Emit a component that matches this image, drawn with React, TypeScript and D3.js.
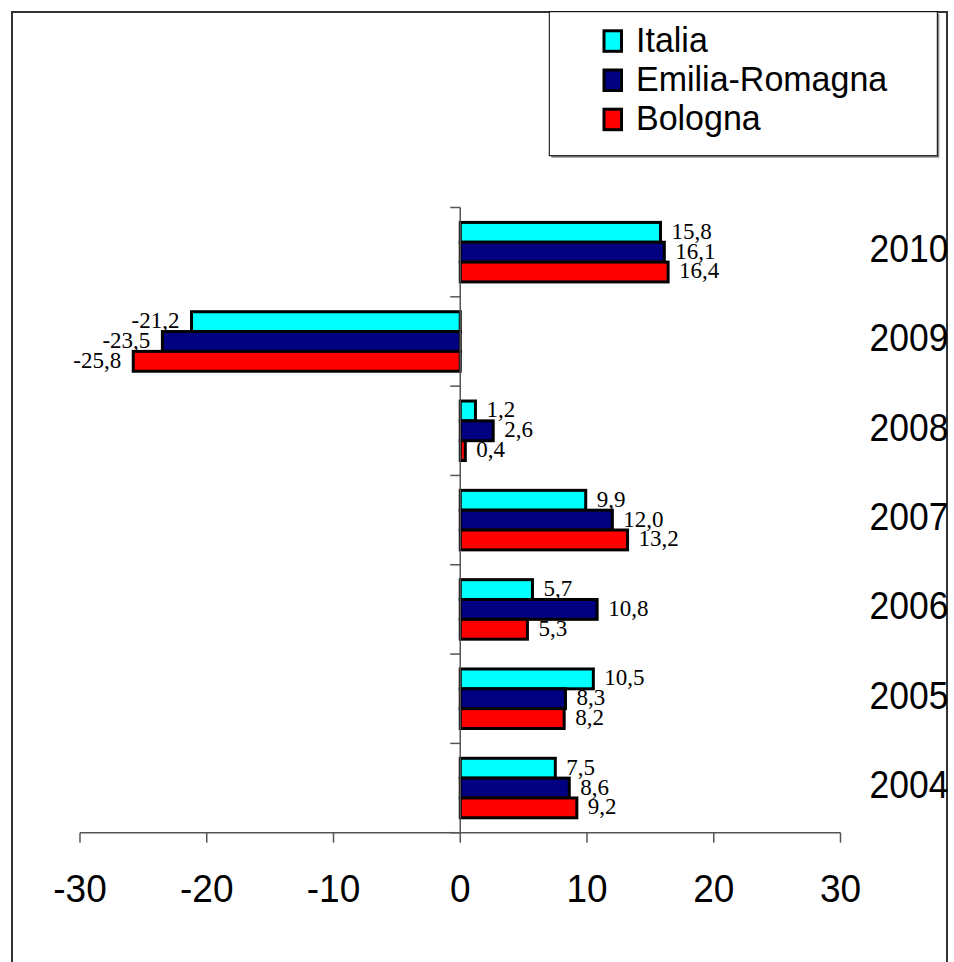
import React from "react";
import * as d3 from "d3";

const years = ["2010", "2009", "2008", "2007", "2006", "2005", "2004"];
const italia = [15.8, -21.2, 1.2, 9.9, 5.7, 10.5, 7.5];
const emilia = [16.1, -23.5, 2.6, 12.0, 10.8, 8.3, 8.6];
const bologna = [16.4, -25.8, 0.4, 13.2, 5.3, 8.2, 9.2];
const seriesNames = ["Italia", "Emilia-Romagna", "Bologna"];
const seriesColors = ["#00FFFF", "#000080", "#FF0000"];
const xTicks = [-30, -20, -10, 0, 10, 20, 30];

const W = 954;
const H = 962;
const SANS = "'Liberation Sans', Arial, sans-serif";
const SERIF = "'Liberation Serif', 'Times New Roman', serif";

const locale = d3.formatLocale({
  decimal: ",",
  thousands: ".",
  grouping: [3],
  currency: ["", "€"],
  minus: "-",
});
const fmtVal = locale.format(".1f");
const fmtTick = locale.format("d");

export default function App() {
  const x = d3.scaleLinear().domain([-30, 30]).range([80, 840.5]);
  const y = d3
    .scaleBand<string>()
    .domain(years)
    .range([207.5, 832.7])
    .paddingInner(0.3)
    .paddingOuter(0.15);
  const step = y.step();
  const bandTop = (yr: string) => (y(yr) as number) - step * 0.15;
  const inner = d3
    .scaleBand<string>()
    .domain(seriesNames)
    .range([1.5, y.bandwidth() - 1.5]);
  const values = [italia, emilia, bologna];
  const x0 = x(0);
  const axisY = 832.7;
  const axisTop = 207.5;

  const tickYs = years.map((yr) => bandTop(yr)).concat([axisY]);

  return (
    <svg
      width={W}
      height={H}
      style={{ position: "absolute", left: 0, top: 0, background: "#fff" }}
    >
      <rect x={0} y={0} width={W} height={H} fill="#fff" />
      {/* outer border */}
      <rect x={12} y={12} width={935} height={1000} fill="none" stroke="#333" strokeWidth={2} />

      {/* bars */}
      {years.map((yr, i) => (
        <g key={yr}>
          {seriesNames.map((s, j) => {
            const v = values[j][i];
            const xv = x(v);
            const by = (y(yr) as number) + (inner(s) as number);
            return (
              <rect
                key={s}
                x={Math.min(x0, xv)}
                y={by}
                width={Math.abs(xv - x0)}
                height={inner.bandwidth()}
                fill={seriesColors[j]}
                stroke="#000"
                strokeWidth={3}
              />
            );
          })}
        </g>
      ))}

      {/* value labels */}
      {years.map((yr, i) => (
        <g key={"l" + yr}>
          {seriesNames.map((s, j) => {
            const v = values[j][i];
            const xv = x(v);
            const cy = (y(yr) as number) + (inner(s) as number) + inner.bandwidth() / 2;
            return (
              <text
                key={s}
                x={v >= 0 ? xv + 11 : xv - 12}
                y={cy + 6.5}
                textAnchor={v >= 0 ? "start" : "end"}
                fontFamily={SERIF}
                fontSize={23}
                fill="#000"
              >
                {fmtVal(v)}
              </text>
            );
          })}
        </g>
      ))}

      {/* vertical axis */}
      <line x1={x0} x2={x0} y1={axisTop} y2={axisY} stroke="#555" strokeWidth={1.5} />
      {tickYs.map((ty, k) => (
        <line key={k} x1={x0 - 10} x2={x0} y1={ty} y2={ty} stroke="#555" strokeWidth={1.5} />
      ))}

      {/* horizontal axis */}
      <line x1={x(-30)} x2={x(30)} y1={axisY} y2={axisY} stroke="#555" strokeWidth={1.5} />
      {xTicks.map((t) => (
        <g key={t}>
          <line x1={x(t)} x2={x(t)} y1={axisY} y2={axisY + 10} stroke="#555" strokeWidth={1.5} />
          <text
            transform={`translate(${x(t)},901.7) scale(1,1.07)`}
            textAnchor="middle"
            fontFamily={SANS}
            fontSize={37}
            fill="#000"
          >
            {fmtTick(t)}
          </text>
        </g>
      ))}

      {/* year labels */}
      {years.map((yr) => (
        <text
          key={"y" + yr}
          transform={`translate(948.5,${bandTop(yr) + step / 2 + 10}) scale(1,1.07)`}
          textAnchor="end"
          fontFamily={SANS}
          fontSize={35.5}
          fill="#000"
        >
          {yr}
        </text>
      ))}

      {/* legend */}
      <rect x={551.3} y={13.7} width={388} height={144} fill="#888" />
      <rect x={549.3} y={11.7} width={388} height={144} fill="#fff" stroke="#000" strokeWidth={1} />
      {seriesNames.map((s, j) => (
        <g key={"lg" + s}>
          <rect
            x={604}
            y={30.8 + j * 39.2}
            width={17.5}
            height={20.5}
            fill={seriesColors[j]}
            stroke="#000"
            strokeWidth={3}
          />
          <text
            transform={`translate(636,${51.7 + j * 39.2}) scale(1,1.03)`}
            fontFamily={SANS}
            fontSize={34}
            fill="#000"
          >
            {s}
          </text>
        </g>
      ))}
    </svg>
  );
}
